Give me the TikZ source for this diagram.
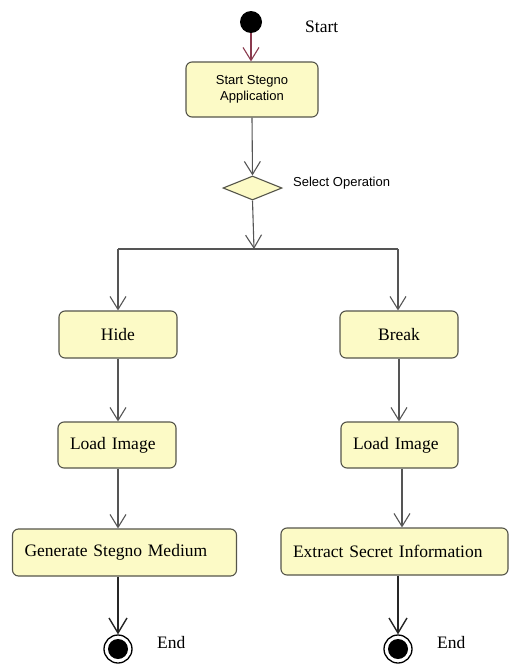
\documentclass[tikz,border=0pt]{standalone}
\usepackage{fontspec}
\setmainfont{Liberation Serif}
\newfontfamily\uisans{Liberation Sans}
\usetikzlibrary{shapes.geometric,arrows.meta}
\definecolor{boxfill}{HTML}{FCFAC6}
\definecolor{boxdraw}{HTML}{55554A}
\definecolor{linegray}{HTML}{555555}
\definecolor{startline}{HTML}{8A3A4E}
\tikzset{
  act/.style={draw=boxdraw, fill=boxfill, rounded corners=6pt, line width=1.1pt,
    font=\fontsize{17.5}{19}\selectfont, inner sep=0pt},
  cbox/.style={act, align=center},
  lbox/.style={act, align=left, inner xsep=12pt},
  flow/.style={draw=linegray, line width=1.1pt, -{Straight Barb[length=13pt,width=16pt,line width=1.1pt]}},
  flowdark/.style={draw=black!85, line width=1.6pt, -{Straight Barb[length=15pt,width=18pt,line width=1.4pt]}},
  lbl/.style={font=\fontsize{17.5}{19}\selectfont, inner sep=0pt, anchor=west},
  slbl/.style={font=\uisans\fontsize{13}{16}\selectfont, inner sep=0pt, anchor=west}
}
\begin{document}
\begin{tikzpicture}[x=1pt,y=-1pt]
\useasboundingbox (0,0) rectangle (510,664);
% start
\node[circle, fill=black, minimum size=22pt, inner sep=0pt] (start) at (251,22) {};
\node[slbl, font=\fontsize{17.5}{19}\selectfont] (startlbl) at (305,27) {Start};
\node[act, font=\uisans\fontsize{13}{16}\selectfont, align=center, minimum width=132pt, minimum height=55pt] (app) at (252,89.5) {Start Stegno\\Application};
\node[diamond, draw=boxdraw, fill=boxfill, line width=1.1pt, minimum width=59pt, minimum height=24pt, inner sep=0pt] (sel) at (252.5,188) {};
\node[slbl] (sellbl) at (293,183) {Select Operation};
\coordinate (bar) at (254,249);
\coordinate (barL) at (118,249);
\coordinate (barR) at (398,249);
% left branch
\node[cbox, minimum width=118pt, minimum height=47pt] (hide) at (118,334.5) {Hide};
\node[lbox, text width=94pt, minimum height=46pt] (load1) at (117,445) {Load Image};
\node[lbox, text width=200pt, minimum height=47pt] (gen) at (124.5,552.5) {Generate Stegno Medium};
% right branch
\node[cbox, minimum width=118pt, minimum height=47pt] (brk) at (399,334.5) {Break};
\node[lbox, text width=93pt, minimum height=46pt] (load2) at (399.5,445) {Load Image};
\node[lbox, text width=203pt, minimum height=47pt] (ext) at (394.5,551.5) {Extract Secret Information};
% ends
\node[circle, draw=black, line width=1.3pt, fill=white, minimum size=28pt, inner sep=0pt] (end1) at (118,649) {};
\fill[black] (end1.center) circle (10pt);
\node[circle, draw=black, line width=1.3pt, fill=white, minimum size=28pt, inner sep=0pt] (end2) at (398,649) {};
\fill[black] (end2.center) circle (10pt);
\node[lbl] (endlbl1) at (157,643) {End};
\node[lbl] (endlbl2) at (437,643) {End};
% connectors
\draw[flow, draw=startline] (start) -- (app.north -| start);
\draw[flow] (app.south) -- (sel.north);
\draw[flow] (sel.south) -- (bar);
\draw[draw=linegray, line width=1.1pt] (barL) -- (barR);
\draw[flow] (barL) -- (hide.north);
\draw[flow] (barR) -- (barR |- brk.north);
\draw[flow] (hide.south) -- (load1.north -| hide.south);
\draw[flow] (brk.south) -- (load2.north -| brk.south);
\draw[flow] (load1.south -| hide.south) -- (gen.north -| hide.south);
\draw[flow] ([xshift=2.5pt]load2.south) -- ([xshift=2.5pt]load2.south |- ext.north);
\draw[flowdark] (end1 |- gen.south) -- (end1);
\draw[flowdark] (end2 |- ext.south) -- (end2);
\end{tikzpicture}
\end{document}
